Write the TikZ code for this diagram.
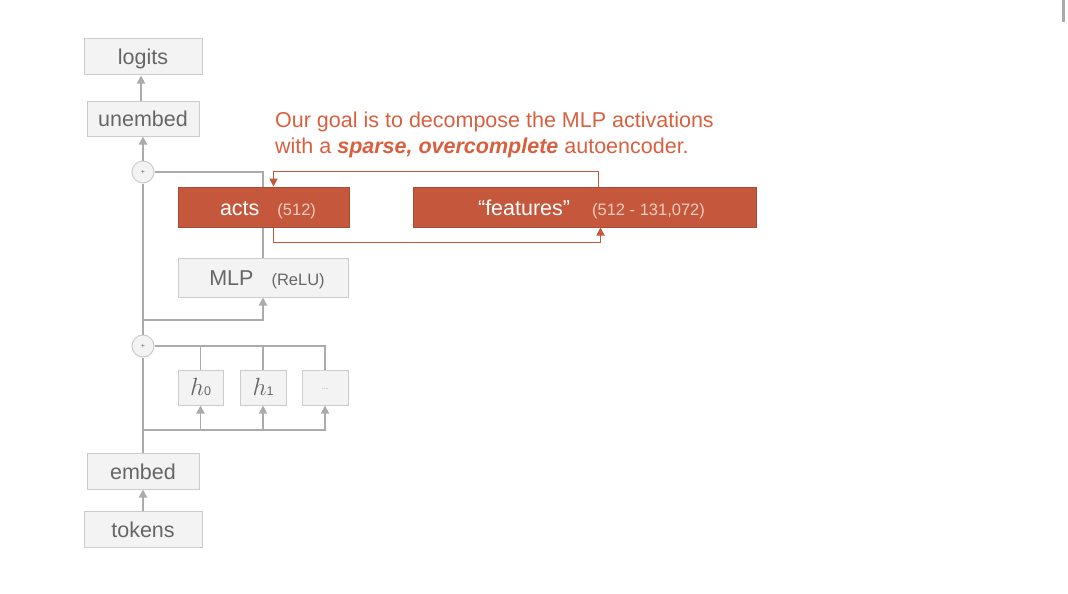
\documentclass[tikz,border=0pt]{standalone}
\usepackage{fontspec}
\setmainfont{Liberation Sans}
\usetikzlibrary{arrows.meta}
\definecolor{boxgray}{HTML}{F3F3F3}
\definecolor{edgegray}{HTML}{CCCCCC}
\definecolor{linegray}{HTML}{ABABAB}
\definecolor{textgray}{HTML}{666666}
\definecolor{rust}{HTML}{C5583C}
\definecolor{rusttext}{HTML}{D9603F}
\definecolor{paletext}{HTML}{F3CDBF}

\tikzset{
  block/.style={draw=edgegray, fill=boxgray, line width=1pt, inner sep=0pt,
    text height=16pt, text depth=0pt,
    text=textgray, font=\fontsize{21.5}{21.5}\selectfont},
  hotblock/.style={draw=rust!85!black, fill=rust, line width=1pt, inner sep=0pt,
    text height=16pt, text depth=0pt,
    text=white, font=\fontsize{21.5}{21.5}\selectfont},
  sumnode/.style={circle, draw=edgegray, fill=boxgray, line width=1pt,
    minimum size=22pt, inner sep=0pt, text=textgray, font=\fontsize{7}{7}\selectfont},
  wire/.style={draw=linegray, line width=1.8pt},
  feed/.style={wire, -{Triangle[length=8pt,width=8pt]}},
  redloop/.style={draw=rust, line width=1.7pt, -{Triangle[length=8pt,width=8pt]}}
}

\begin{document}
\begin{tikzpicture}[x=1pt,y=-1pt]
  \fill[white] (0,0) rectangle (1068,594);
  \useasboundingbox (0,0) rectangle (1068,594);
  \fill[linegray] (1062,0) rectangle (1065,22);

  \begin{scope}[every node/.style={block}]
    \node[minimum width=118pt, minimum height=36pt] (logits)  at (143,57)    {logits};
    \node[minimum width=112pt, minimum height=35pt] (unembed) at (143,118.5) {unembed};
    \node[minimum width=170pt, minimum height=39pt] (mlp)     at (263,277.5)
      {\hspace{8pt}MLP\hspace{18pt}{\fontsize{16.5}{16.5}\selectfont (ReLU)}};
    \node[minimum width=45pt, minimum height=35pt]  (h0)      at (200.5,387.5)
      {{\fontsize{33}{33}\selectfont$h$}{\fontsize{12.5}{12.5}\selectfont 0}};
    \node[minimum width=46pt, minimum height=35pt]  (h1)      at (263,387.5)
      {{\fontsize{33}{33}\selectfont$h$}{\fontsize{12.5}{12.5}\selectfont 1}};
    \node[minimum width=46pt, minimum height=35pt]  (hdots)   at (325,387.5)
      {\raisebox{6pt}{\fontsize{8}{8}\selectfont\color{edgegray!80!black}...}};
    \node[minimum width=112pt, minimum height=36pt] (embed)   at (143,471)   {embed};
    \node[minimum width=118pt, minimum height=36pt] (tokens)  at (143,529)   {tokens};
  \end{scope}

  \begin{scope}[every node/.style={hotblock}]
    \node[minimum width=171pt, minimum height=40pt] (acts)     at (263.5,207)
      {\hspace{9pt}acts\hspace{18pt}{\fontsize{16.5}{16.5}\selectfont\color{paletext}(512)}};
    \node[minimum width=343pt, minimum height=40pt] (features) at (584.5,207)
      {\hspace{14pt}``features''\hspace{22pt}{\fontsize{16.5}{16.5}\selectfont\color{paletext}(512 - 131,072)}};
  \end{scope}

  \node[sumnode] (sum1) at (143,172) {+};
  \node[sumnode] (sum2) at (143,346) {+};

  \node[anchor=north west, align=left, inner sep=0pt, text=rusttext,
        font=\fontsize{21.5}{26}\selectfont] (goal) at (275,111.5)
    {Our goal is to decompose the MLP activations\\
     with a \textbf{\textit{sparse, overcomplete}} autoencoder.};

  \coordinate (tap) at (143,320);
  \coordinate (bus) at (143,430);

  \draw[feed] (tokens.north) -- (tokens.north |- embed.south);
  \draw[wire] (embed.north) -- (sum2.south);
  \draw[feed] (bus) -| (h0.south);
  \draw[feed] (bus) -| (h1.south);
  \draw[feed] (bus) -| (hdots.south);
  \draw[wire] (sum2.east) -| (h0.north);
  \draw[wire] (sum2.east) -| (h1.north);
  \draw[wire] (sum2.east) -| (hdots.north);
  \draw[wire] (sum2.north) -- (sum1.south);
  \draw[feed] (tap) -| (mlp.south);
  \draw[wire] (mlp.north) -- (mlp.north |- acts.south);
  \draw[wire] (sum1.east) -| (mlp.north |- acts.north);
  \draw[feed] (sum1.north) -- (unembed.south);
  \draw[feed] ([xshift=-2pt]unembed.north) -- ([xshift=-2pt]logits.south);

  \draw[redloop] ([xshift=186pt]features.north west) -- ++(0,-15)
    -| ([xshift=96pt]acts.north west);
  \draw[redloop] ([xshift=96pt]acts.south west) -- ++(0,15)
    -| ([xshift=188pt]features.south west);

\end{tikzpicture}
\end{document}
